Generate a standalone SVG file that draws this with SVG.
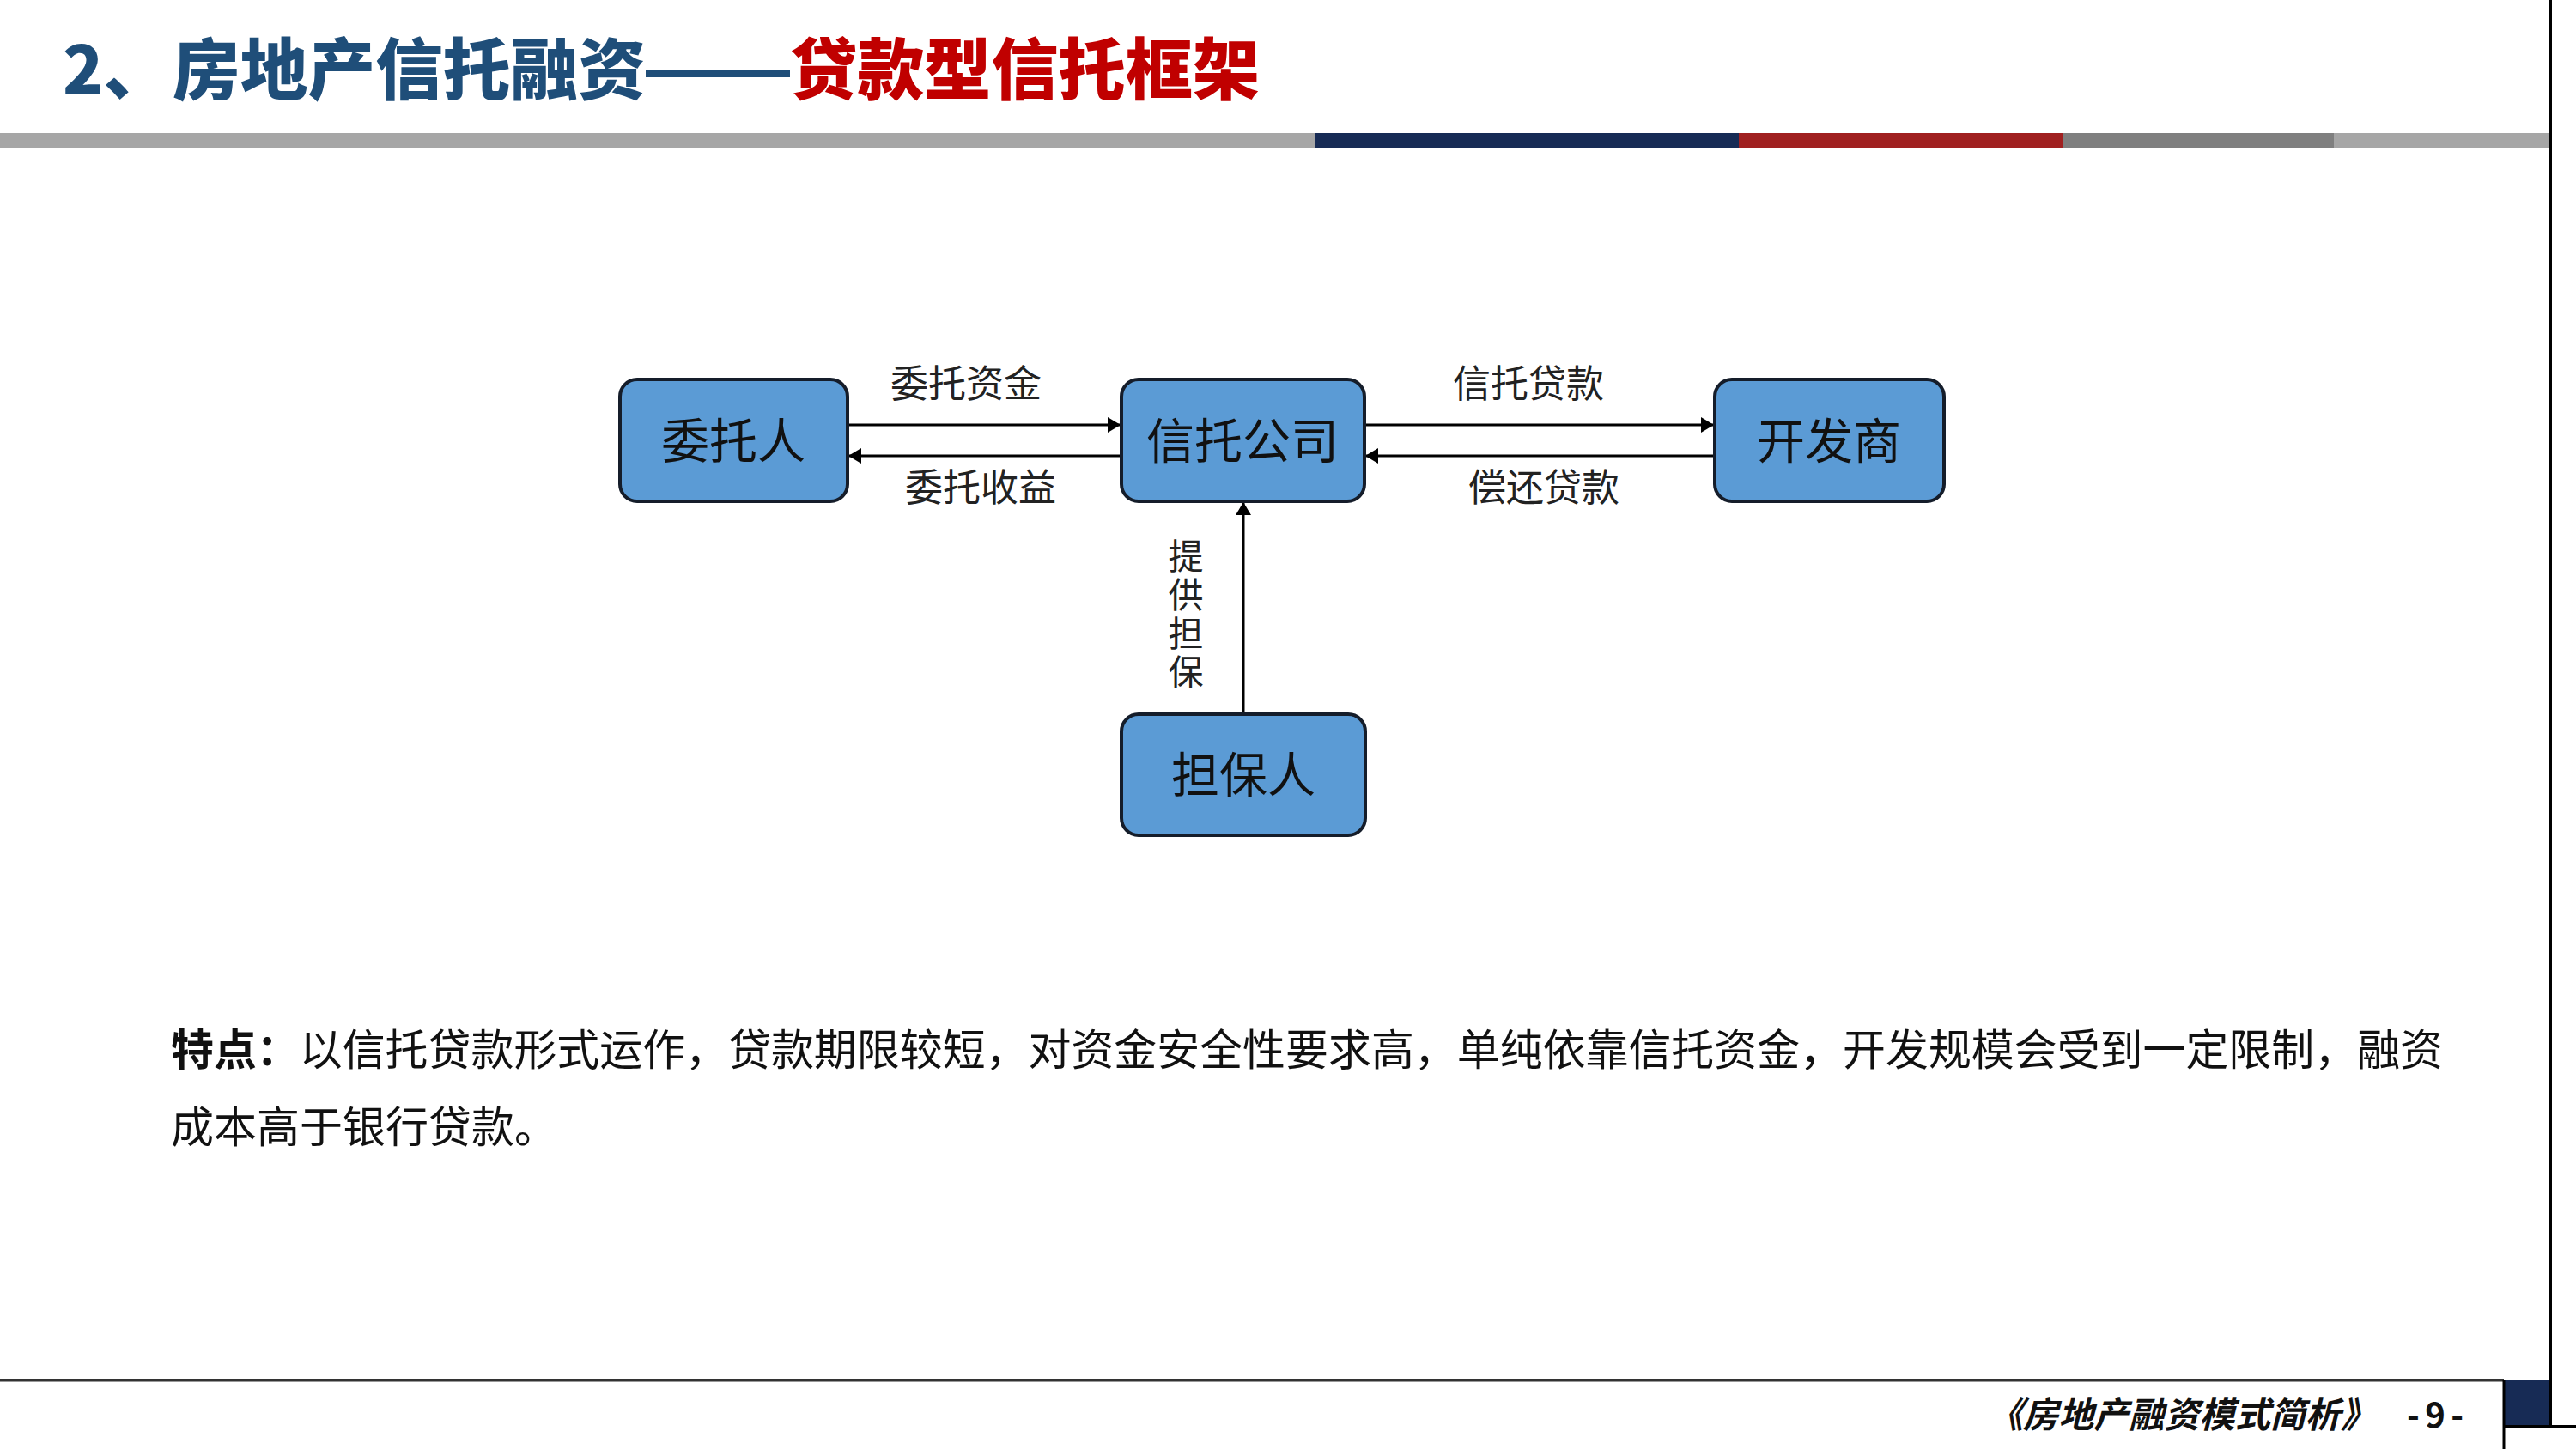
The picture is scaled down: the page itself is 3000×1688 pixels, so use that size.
<svg xmlns="http://www.w3.org/2000/svg" width="3000" height="1688" viewBox="0 0 3000 1688">
<style>
.t{font-family:"Noto Sans CJK SC","Noto Sans",sans-serif;}
.title{font-size:78px;font-weight:900;}
.blue{fill:#1F4E79;}
.red{fill:#C00000;}
.box{fill:#5B9BD5;stroke:#151d2a;stroke-width:4;}
.nl{font-size:56px;fill:#111;text-anchor:middle;}
.el{font-size:44px;fill:#222;text-anchor:middle;}
.vl{font-size:41px;fill:#222;writing-mode:vertical-rl;text-orientation:upright;letter-spacing:4px;}
.conn{stroke:#000;stroke-width:3;fill:none;marker-end:url(#ah);}
.para{font-size:50px;fill:#111;}
</style>
<defs>
<marker id="ah" markerUnits="userSpaceOnUse" markerWidth="16" markerHeight="18" refX="15" refY="9" orient="auto">
<path d="M0,0 L15,9 L0,18 z" fill="#000"/>
</marker>
</defs>
<rect x="0" y="0" width="3000" height="1688" fill="#fff"/>
<!-- header -->
<g id="title">
<text class="t title blue" x="73" y="110">2、</text>
<text class="t title blue" x="201" y="110" textLength="551" lengthAdjust="spacingAndGlyphs">房地产信托融资</text>
<rect x="752" y="82" width="168" height="8" fill="#1F4E79"/>
<text class="t title red" x="920" y="110" textLength="547" lengthAdjust="spacingAndGlyphs">贷款型信托框架</text>
</g>
<g id="header-bar">
<rect x="0" y="155" width="1532" height="17" fill="#A6A6A6"/>
<rect x="1532" y="155" width="493" height="17" fill="#172B55"/>
<rect x="2025" y="155" width="377" height="17" fill="#A02020"/>
<rect x="2402" y="155" width="316" height="17" fill="#7F7F7F"/>
<rect x="2718" y="155" width="251" height="17" fill="#A6A6A6"/>
</g>
<g id="frame">
<line x1="2970" y1="0" x2="2970" y2="1662" stroke="#000" stroke-width="4"/>
<line x1="0" y1="1608" x2="2916" y2="1608" stroke="#333" stroke-width="3"/>
<rect x="2916" y="1608" width="53" height="54" fill="#172B55"/>
<line x1="2916" y1="1662" x2="3000" y2="1662" stroke="#000" stroke-width="4"/>
<line x1="2916" y1="1608" x2="2916" y2="1688" stroke="#000" stroke-width="3"/>
</g>
<!-- connectors -->
<g id="connectors">
<line class="conn" x1="987" y1="495" x2="1305" y2="495"/>
<line class="conn" x1="1306" y1="531" x2="988" y2="531"/>
<line class="conn" x1="1589" y1="495" x2="1996" y2="495"/>
<line class="conn" x1="1997" y1="531" x2="1590" y2="531"/>
<line class="conn" x1="1448" y1="832" x2="1448" y2="585"/>
<text class="t el" x="1125" y="463">委托资金</text>
<text class="t el" x="1142" y="584">委托收益</text>
<text class="t el" x="1780" y="463">信托贷款</text>
<text class="t el" x="1798" y="584">偿还贷款</text>
<text class="t vl" x="1381" y="627">提供担保</text>
</g>
<!-- nodes -->
<g id="node-weituoren">
<rect class="box" x="722" y="442" width="265" height="142" rx="20"/>
<text class="t nl" x="854" y="534">委托人</text>
</g>
<g id="node-xintuogongsi">
<rect class="box" x="1306" y="442" width="283" height="142" rx="20"/>
<text class="t nl" x="1447" y="534">信托公司</text>
</g>
<g id="node-kaifashang">
<rect class="box" x="1997" y="442" width="267" height="142" rx="20"/>
<text class="t nl" x="2130" y="534">开发商</text>
</g>
<g id="node-danbaoren">
<rect class="box" x="1306" y="832" width="284" height="141" rx="20"/>
<text class="t nl" x="1448" y="923">担保人</text>
</g>
<!-- paragraph -->
<g id="description">
<text class="t para" x="199" y="1241" textLength="2646" lengthAdjust="spacingAndGlyphs"><tspan font-weight="bold">特点：</tspan>以信托贷款形式运作，贷款期限较短，对资金安全性要求高，单纯依靠信托资金，开发规模会受到一定限制，融资</text>
<text class="t para" x="199" y="1331">成本高于银行贷款。</text>
</g>
<!-- footer -->
<g id="footer">
<text class="t" x="2315" y="1663" font-size="41" font-weight="bold" font-style="italic" fill="#111" textLength="452" lengthAdjust="spacingAndGlyphs">《房地产融资模式简析》</text>
<text class="t" x="2803" y="1663" font-size="40" font-weight="bold" fill="#111" textLength="66" lengthAdjust="spacing">-9-</text>
</g>
</svg>
